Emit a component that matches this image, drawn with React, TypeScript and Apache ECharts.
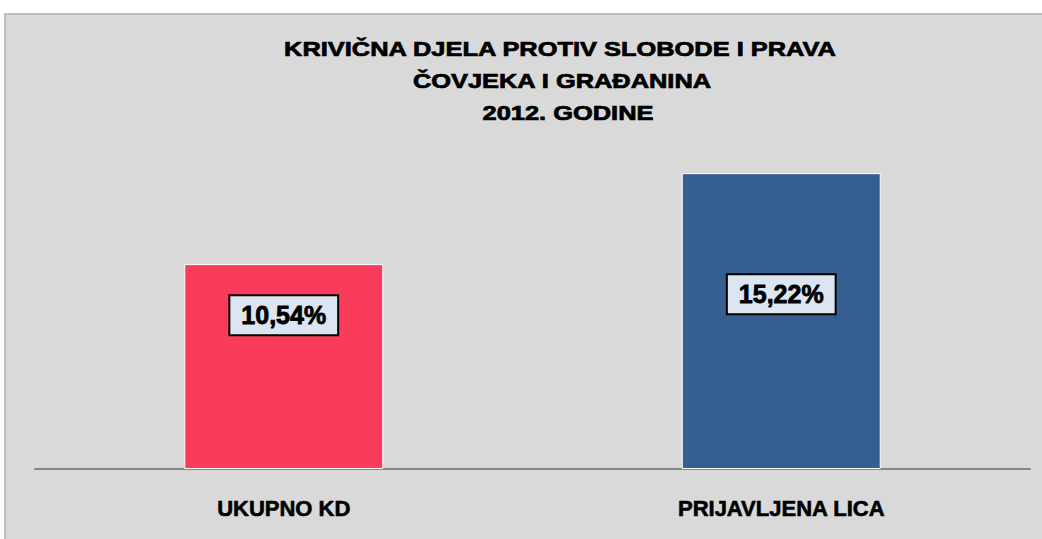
import React, { useEffect, useRef } from "react";
import * as echarts from "echarts";

const titleLines = [
  "KRIVIČNA DJELA PROTIV SLOBODE I PRAVA",
  "ČOVJEKA I GRAĐANINA",
  "2012. GODINE",
];
const categories = ["UKUPNO KD", "PRIJAVLJENA LICA"];
const values = [10.54, 15.22];
const valueLabels = ["10,54%", "15,22%"];
const barColors = ["#f93c5c", "#355f91"];
const labelOffsets = [51, 121];
const titleCentersX = [560, 562, 568];
const titleCentersY = [49, 81, 113];

export default function App() {
  const ref = useRef<HTMLDivElement>(null);
  useEffect(() => {
    if (!ref.current) return;
    const chart = echarts.init(ref.current, null, { renderer: "svg" });
    const font = "'Liberation Sans', Arial, sans-serif";
    chart.setOption({
      animation: false,
      backgroundColor: "#ffffff",
      graphic: [
        {
          type: "rect",
          z: -10,
          shape: { x: 5, y: 14, width: 1100, height: 600 },
          style: { fill: "#d9d9d9", stroke: "#bfbfbf", lineWidth: 2 },
          silent: true,
        },
        ...titleLines.map((t, i) => ({
          type: "text",
          x: titleCentersX[i],
          y: titleCentersY[i],
          scaleX: 1.27,
          z: 10,
          style: {
            text: t,
            fill: "#000000",
            stroke: "#000000",
            lineWidth: 0.7,
            font: `bold 20px ${font}`,
            align: "center",
            verticalAlign: "middle",
          },
        })),
      ],
      grid: { left: 35, right: 12, top: 158, bottom: 70 },
      xAxis: {
        type: "category",
        data: categories,
        axisLine: { show: true, lineStyle: { color: "#868686", width: 2 } },
        axisTick: { show: false },
        axisLabel: {
          color: "#000000",
          fontFamily: font,
          fontWeight: "bold",
          fontSize: 22,
          margin: 28,
          textBorderColor: "#000000",
          textBorderWidth: 0.6,
        },
      },
      yAxis: {
        type: "value",
        min: 0,
        max: 16,
        show: false,
        splitLine: { show: false },
      },
      series: [
        {
          type: "bar",
          barWidth: "40%",
          data: values.map((v, i) => ({
            value: v,
            itemStyle: {
              color: barColors[i],
              borderColor: "#ffffff",
              borderWidth: 1,
            },
            label: {
              show: true,
              position: ["50%", labelOffsets[i]],
              align: "center",
              verticalAlign: "middle",
              formatter: valueLabels[i],
              color: "#000000",
              fontFamily: font,
              fontWeight: "bold",
              fontSize: 25,
              textBorderColor: "#000000",
              textBorderWidth: 0.8,
              backgroundColor: "#dce6f2",
              borderColor: "#000000",
              borderWidth: 2,
              padding: [7, 11, 6, 11],
            },
          })),
        },
      ],
    });
    return () => chart.dispose();
  }, []);
  return (
    <div
      ref={ref}
      style={{ position: "fixed", left: 0, top: 0, width: 1042, height: 539 }}
    />
  );
}
